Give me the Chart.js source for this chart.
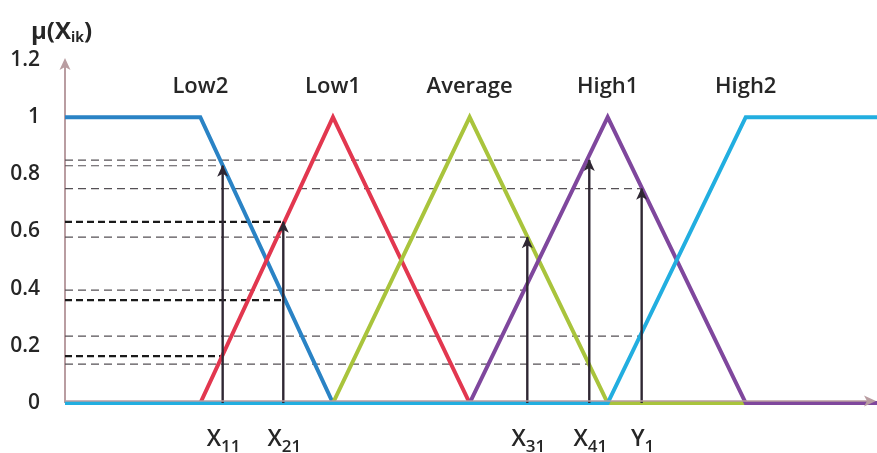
<!DOCTYPE html>
<html>
<head>
<meta charset="utf-8">
<script src="https://cdn.jsdelivr.net/npm/chart.js@4/dist/chart.umd.min.js"></script>
<style>
  html, body { margin: 0; padding: 0; background: #ffffff; }
  #wrap { width: 877px; height: 453px; position: relative; }
</style>
</head>
<body>
<div id="wrap"><canvas id="chart"></canvas></div>
<script>
// Membership functions (x in universe units, y = membership degree)
const seriesNames = ['Low2', 'Low1', 'Average', 'High1', 'High2'];
const low2X    = [1, 2, 2.98, 7];
const low2Y    = [1, 1, 0, 0];
const low1X    = [1, 2, 2.98, 3.99, 7];
const low1Y    = [0, 0, 1, 0, 0];
const averageX = [1, 2.98, 3.99, 5.01, 7];
const averageY = [0, 0, 1, 0, 0];
const high1X   = [1, 3.99, 5.01, 6.03, 7];
const high1Y   = [0, 0, 1, 0, 0];
const high2X   = [1, 5.01, 6.03, 7];
const high2Y   = [0, 0, 1, 1];

// Crisp inputs and their membership readings
const inputNames  = ['X', 'X', 'X', 'X', 'Y'];
const inputSubs   = ['11', '21', '31', '41', '1'];
const inputX      = [2.165, 2.613, 4.416, 4.874, 5.261];
const upperDegree = [0.83, 0.634, 0.58, 0.85, 0.75];
const lowerDegree = [0.164, 0.36, 0.395, 0.136, 0.234];
const upperBold   = [false, true, false, false, false];
const lowerBold   = [true, true, false, false, false];

const yTickLabels = ['0', '0.2', '0.4', '0.6', '0.8', '1', '1.2'];

const colors = ['#2a83c5', '#e2374f', '#a9c43c', '#7f479d', '#22aee0'];
const seriesX = [low2X, low1X, averageX, high1X, high2X];
const seriesY = [low2Y, low1Y, averageY, high1Y, high2Y];

const X_MIN = 1, X_MAX = 7;
const FONT = '"Open Sans", Lato, sans-serif';
const TEXT = '#262626';
const AXIS = '#b99da1';
const ARROW = '#2f2733';

const toPts = (xs, ys) => xs.map((x, i) => ({ x: x, y: ys[i] }));

const datasets = [];
// dashed guide lines from the y axis to each input (drawn lowest)
inputX.forEach((x, i) => {
  [[upperDegree[i], upperBold[i]], [lowerDegree[i], lowerBold[i]]].forEach(([v, bold]) => {
    datasets.push({
      data: [{ x: X_MIN, y: v }, { x: x, y: v }],
      borderColor: bold ? '#1a1a1a' : '#555055',
      borderWidth: bold ? 2.2 : 1.2,
      borderDash: bold ? [7, 4] : [8, 5],
      pointRadius: 0,
      clip: false,
      order: 20
    });
  });
});
// membership functions; High2 on top, Low2 at the bottom
seriesNames.forEach((name, i) => {
  datasets.push({
    label: name,
    data: toPts(seriesX[i], seriesY[i]),
    borderColor: colors[i],
    borderWidth: 4,
    pointRadius: 0,
    clip: false,
    order: 10 - i,
    isSeries: true
  });
});
// vertical arrows at each input
inputX.forEach((x, i) => {
  datasets.push({
    data: [{ x: x, y: 0 }, { x: x, y: upperDegree[i] }],
    borderColor: ARROW,
    borderWidth: 2.4,
    pointRadius: 0,
    clip: false,
    order: 1,
    isArrow: true
  });
});

function arrowHead(ctx, x, y, dir, color) {
  // dir: 'up' or 'right'; (x, y) is the tip
  ctx.save();
  ctx.fillStyle = color;
  ctx.beginPath();
  if (dir === 'up') {
    ctx.moveTo(x, y);
    ctx.lineTo(x + 5.5, y + 12);
    ctx.lineTo(x, y + 9);
    ctx.lineTo(x - 5.5, y + 12);
  } else {
    ctx.moveTo(x, y);
    ctx.lineTo(x - 12, y - 5.5);
    ctx.lineTo(x - 9, y);
    ctx.lineTo(x - 12, y + 5.5);
  }
  ctx.closePath();
  ctx.fill();
  ctx.restore();
}

function subText(ctx, main, sub, cx, baseline, mainFont, subFont, subDrop, align) {
  ctx.font = mainFont;
  const w1 = ctx.measureText(main).width;
  ctx.font = subFont;
  const w2 = ctx.measureText(sub).width;
  const left = align === 'left' ? cx : cx - (w1 + w2) / 2;
  ctx.textAlign = 'left';
  ctx.textBaseline = 'alphabetic';
  ctx.font = mainFont;
  ctx.fillText(main, left, baseline);
  ctx.font = subFont;
  ctx.fillText(sub, left + w1, baseline + subDrop);
  return left + w1 + w2;
}

const decor = {
  id: 'decor',
  beforeDatasetsDraw(chart) {
    const { ctx, scales: { x: xs, y: ys } } = chart;
    const x0 = xs.getPixelForValue(X_MIN);
    const y0 = ys.getPixelForValue(0);
    const yTop = ys.getPixelForValue(1.2);
    // y axis with arrow
    ctx.save();
    ctx.strokeStyle = AXIS;
    ctx.lineWidth = 2;
    ctx.beginPath();
    ctx.moveTo(x0, y0);
    ctx.lineTo(x0, yTop + 6);
    ctx.stroke();
    ctx.restore();
    arrowHead(ctx, x0, yTop - 2, 'up', AXIS);
  },
  afterDatasetsDraw(chart) {
    const { ctx, scales: { x: xs, y: ys } } = chart;
    const x0 = xs.getPixelForValue(X_MIN);
    const xEnd = xs.getPixelForValue(X_MAX);
    const y0 = ys.getPixelForValue(0);

    // x axis with arrow, sitting just above the zero-level lines
    ctx.save();
    ctx.strokeStyle = AXIS;
    ctx.lineWidth = 1.6;
    ctx.beginPath();
    ctx.moveTo(x0, y0 - 2);
    ctx.lineTo(xEnd - 6, y0 - 2);
    ctx.stroke();
    ctx.restore();
    arrowHead(ctx, xEnd - 1, y0 - 2, 'right', AXIS);

    // arrowheads on the inputs
    inputX.forEach((x, i) => {
      arrowHead(ctx, xs.getPixelForValue(x), ys.getPixelForValue(upperDegree[i]) - 1, 'up', ARROW);
    });

    ctx.save();
    ctx.fillStyle = TEXT;
    // series names above each peak
    ctx.font = '600 22px ' + FONT;
    ctx.textAlign = 'center';
    ctx.textBaseline = 'alphabetic';
    chart.data.datasets.filter(d => d.isSeries).forEach(d => {
      const peak = d.data.find(p => p.y === 1 && p.x !== X_MIN && p.x !== X_MAX);
      ctx.fillText(d.label, xs.getPixelForValue(peak.x), ys.getPixelForValue(1.11) + 7);
    });

    // input names under the x axis
    inputX.forEach((x, i) => {
      subText(ctx, inputNames[i], inputSubs[i], xs.getPixelForValue(x) + 1, y0 + 43,
        '600 23px ' + FONT, '600 17px ' + FONT, 6, 'center');
    });

    // axis title
    const end = subText(ctx, '\u03bc(X', 'ik', 31, 39, 'bold 24px ' + FONT, 'bold 14px ' + FONT, 3, 'left');
    ctx.font = 'bold 24px ' + FONT;
    ctx.textAlign = 'left';
    ctx.fillText(')', end, 39);
    ctx.restore();
  }
};

new Chart(document.getElementById('chart'), {
  type: 'line',
  data: { datasets: datasets },
  options: {
    responsive: true,
    maintainAspectRatio: false,
    animation: false,
    events: [],
    layout: { padding: { top: 60, bottom: 50, left: 0, right: 0 } },
    plugins: { legend: { display: false }, tooltip: { enabled: false } },
    elements: { line: { tension: 0, borderJoinStyle: 'miter', borderCapStyle: 'butt' } },
    scales: {
      x: { type: 'linear', min: X_MIN, max: X_MAX, display: false },
      y: {
        type: 'linear', min: 0, max: 1.2,
        grid: { display: false, drawTicks: false },
        border: { display: false },
        afterFit(scale) { scale.width = 65; },
        ticks: {
          stepSize: 0.2,
          padding: 25,
          color: TEXT,
          font: { family: FONT, size: 21, weight: '600' },
          callback: (v, i) => yTickLabels[i]
        }
      }
    }
  },
  plugins: [decor]
});
</script>
</body>
</html>
